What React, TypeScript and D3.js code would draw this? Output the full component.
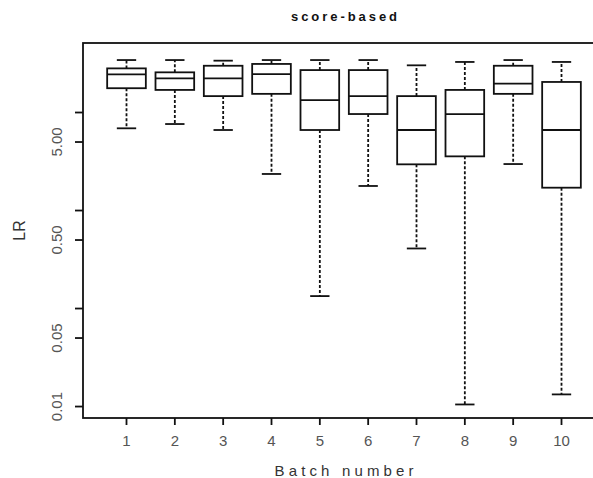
import React from "react";
import * as d3 from "d3";

// batch numbers on the x axis
const batches = [1, 2, 3, 4, 5, 6, 7, 8, 9, 10];

// five-number summaries of LR per batch (log scale)
const whiskerHigh = [34.3, 34.3, 33.8, 34.3, 34.3, 34.3, 30.3, 32.8, 34.3, 32.8];
const upperQuartile = [28.2, 25.7, 30.0, 31.3, 27.1, 27.1, 14.7, 17.0, 30.0, 20.5];
const medians = [24.5, 22.3, 22.3, 24.7, 13.4, 14.7, 6.63, 9.65, 19.7, 6.63];
const lowerQuartile = [17.7, 17.0, 14.7, 15.5, 6.63, 9.65, 2.96, 3.57, 15.5, 1.71];
const whiskerLow = [6.9, 7.63, 6.63, 2.36, 0.134, 1.78, 0.41, 0.0105, 2.98, 0.0133];

// y ticks; R drops the labels that would overlap
const yTickValues = [0.01, 0.05, 0.1, 0.5, 1, 5, 10];
const yTickLabels = ["0.01", "0.05", "", "0.50", "", "5.00", ""];

const W = 593;
const H = 478;
const left = 83;
const right = 605; // the frame runs off the picture on the right
const top = 43;
const bottom = 418;

const font = "'Liberation Sans', Arial, sans-serif";

const App = () => {
  const x = d3.scaleLinear().domain([0.1, 10.9]).range([left, right]);
  const y = d3.scaleLog().domain([0.00764, 51.2]).range([bottom, top]);

  const bw = (x(1) - x(0)) * 0.8;
  const sw = bw * 0.5;
  const lw = 1.8;

  return (
    <svg
      width={W}
      height={H}
      style={{ position: "absolute", left: 0, top: 0, background: "#fff" }}
    >
      <text
        x={(left + right) / 2}
        y={21}
        textAnchor="middle"
        fontFamily={font}
        fontWeight="bold"
        fontSize={13}
        textLength={106}
        lengthAdjust="spacing"
        fill="#111"
      >
        score-based
      </text>

      {/* frame */}
      <rect
        x={left}
        y={top}
        width={right - left}
        height={bottom - top}
        fill="none"
        stroke="#111"
        strokeWidth={lw}
      />

      {/* y axis */}
      {yTickValues.map((v, i) => (
        <g key={"y" + v}>
          <line x1={left - 8} x2={left} y1={y(v)} y2={y(v)} stroke="#111" strokeWidth={lw} />
          {yTickLabels[i] && (
            <text
              transform={`translate(56,${y(v)}) rotate(-90)`}
              textAnchor="middle"
              dominantBaseline="central"
              fontFamily={font}
              fontSize={15}
              fill="#555"
            >
              {yTickLabels[i]}
            </text>
          )}
        </g>
      ))}
      <text
        transform={`translate(19,${(top + bottom) / 2}) rotate(-90)`}
        textAnchor="middle"
        dominantBaseline="central"
        fontFamily={font}
        fontSize={16}
        fill="#333"
      >
        LR
      </text>

      {/* x axis */}
      {batches.map(b => (
        <g key={"x" + b}>
          <line x1={x(b)} x2={x(b)} y1={bottom} y2={bottom + 7} stroke="#111" strokeWidth={lw} />
          <text
            x={x(b)}
            y={445.5}
            textAnchor="middle"
            fontFamily={font}
            fontSize={15}
            fill="#555"
          >
            {b}
          </text>
        </g>
      ))}
      <text
        x={(left + right) / 2}
        y={476}
        textAnchor="middle"
        fontFamily={font}
        fontSize={15}
        textLength={139}
        lengthAdjust="spacing"
        fill="#333"
      >
        Batch number
      </text>

      {/* boxes */}
      {batches.map((b, i) => {
        const cx = x(b);
        return (
          <g key={"b" + b} stroke="#111" strokeWidth={lw} fill="none">
            <line x1={cx} x2={cx} y1={y(upperQuartile[i])} y2={y(whiskerHigh[i])} strokeDasharray="3,2" />
            <line x1={cx} x2={cx} y1={y(lowerQuartile[i])} y2={y(whiskerLow[i])} strokeDasharray="3,2" />
            <line x1={cx - sw / 2} x2={cx + sw / 2} y1={y(whiskerHigh[i])} y2={y(whiskerHigh[i])} />
            <line x1={cx - sw / 2} x2={cx + sw / 2} y1={y(whiskerLow[i])} y2={y(whiskerLow[i])} />
            <rect
              x={cx - bw / 2}
              y={y(upperQuartile[i])}
              width={bw}
              height={y(lowerQuartile[i]) - y(upperQuartile[i])}
              fill="#fff"
            />
            <line x1={cx - bw / 2} x2={cx + bw / 2} y1={y(medians[i])} y2={y(medians[i])} />
          </g>
        );
      })}
    </svg>
  );
};

export default App;
